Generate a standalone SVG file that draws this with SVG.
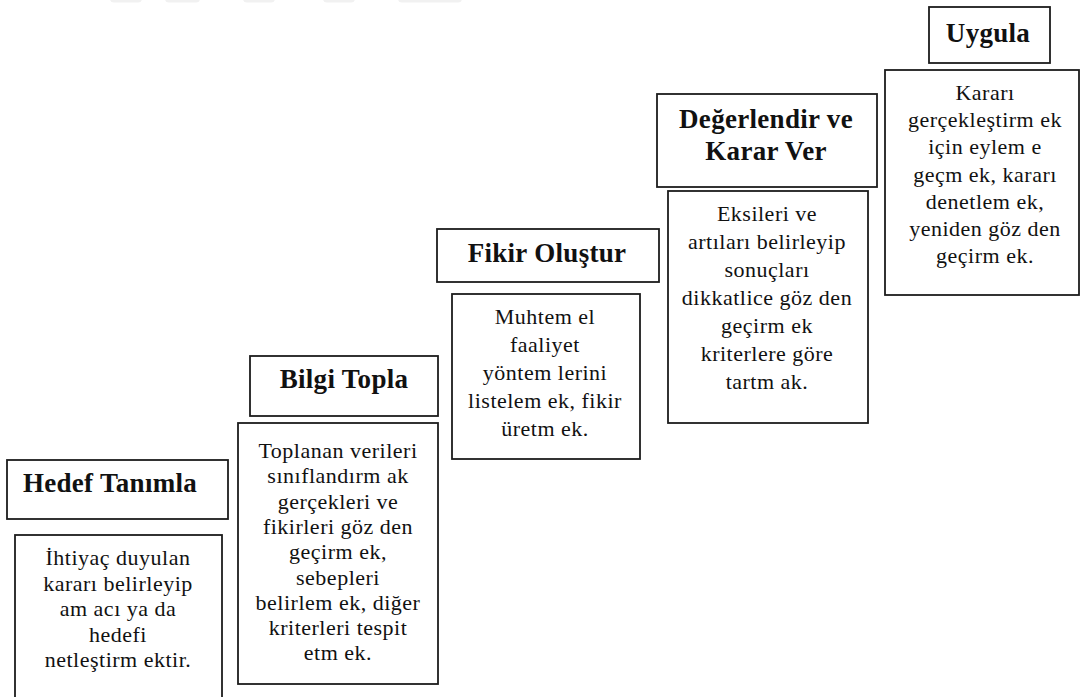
<svg xmlns="http://www.w3.org/2000/svg" width="1081" height="697" viewBox="0 0 1081 697">
<style>
.box{fill:#fff;stroke:#1c1c1c;stroke-width:1.8}
.t{font-family:"Liberation Serif","Times New Roman",serif;font-weight:bold;font-size:27px;fill:#111;text-anchor:middle;letter-spacing:0.3px}
.b{font-family:"Liberation Serif","Times New Roman",serif;font-size:22px;fill:#111;text-anchor:middle;letter-spacing:0.5px}
.wm{fill:#f1f1f1}
</style>
<rect width="1081" height="697" fill="#fff"/>
<g id="watermark">
<rect class="wm" x="110" y="-6" width="32" height="8.5" rx="4"/>
<rect class="wm" x="165" y="-6" width="35" height="8.5" rx="4"/>
<rect class="wm" x="243" y="-6" width="32" height="8.5" rx="4"/>
<rect class="wm" x="323" y="-6" width="32" height="8.5" rx="4"/>
<rect class="wm" x="398" y="-6" width="64" height="8.5" rx="4"/>
</g>
<g id="connectors"></g>
<g id="hedef">
<rect class="box" x="7" y="460" width="221" height="59"/>
<text class="t" x="110" y="492">Hedef Tanımla</text>
<rect class="box" x="15" y="535" width="207" height="175"/>
<text class="b" x="118" y="565">İhtiyaç duyulan</text>
<text class="b" x="118" y="590.5">kararı belirleyip</text>
<text class="b" x="118" y="616">am acı ya da</text>
<text class="b" x="118" y="641.5">hedefi</text>
<text class="b" x="118" y="667">netleştirm ektir.</text>
</g>
<g id="bilgi">
<rect class="box" x="250" y="356" width="188" height="60"/>
<text class="t" x="344" y="388">Bilgi Topla</text>
<rect class="box" x="238" y="423" width="200" height="261"/>
<text class="b" x="338" y="458">Toplanan verileri</text>
<text class="b" x="338" y="483.3">sınıflandırm ak</text>
<text class="b" x="338" y="508.6">gerçekleri  ve</text>
<text class="b" x="338" y="533.9">fikirleri  göz den</text>
<text class="b" x="338" y="559.2">geçirm ek,</text>
<text class="b" x="338" y="584.5">sebepleri</text>
<text class="b" x="338" y="609.8">belirlem ek,  diğer</text>
<text class="b" x="338" y="635.1">kriterleri  tespit</text>
<text class="b" x="338" y="660.4">etm ek.</text>
</g>
<g id="fikir">
<rect class="box" x="437" y="229" width="222" height="53"/>
<text class="t" x="547" y="262">Fikir Oluştur</text>
<rect class="box" x="452" y="294" width="188" height="165"/>
<text class="b" x="545" y="324">Muhtem el</text>
<text class="b" x="545" y="352">faaliyet</text>
<text class="b" x="545" y="380">yöntem lerini</text>
<text class="b" x="545" y="408">listelem ek, fikir</text>
<text class="b" x="545" y="436">üretm ek.</text>
</g>
<g id="degerlendir">
<rect class="box" x="657" y="94" width="220" height="93"/>
<text class="t" x="766" y="128">Değerlendir ve</text>
<text class="t" x="766" y="160">Karar Ver</text>
<rect class="box" x="668" y="191" width="200" height="232"/>
<text class="b" x="767" y="221">Eksileri ve</text>
<text class="b" x="767" y="249">artıları belirleyip</text>
<text class="b" x="767" y="277">sonuçları</text>
<text class="b" x="767" y="305">dikkatlice göz den</text>
<text class="b" x="767" y="333">geçirm ek</text>
<text class="b" x="767" y="361">kriterlere göre</text>
<text class="b" x="767" y="389">tartm ak.</text>
</g>
<g id="uygula">
<rect class="box" x="929" y="7" width="121" height="56"/>
<text class="t" x="988" y="42">Uygula</text>
<rect class="box" x="885" y="70" width="194" height="225"/>
<text class="b" x="985" y="100">Kararı</text>
<text class="b" x="985" y="127.2">gerçekleştirm ek</text>
<text class="b" x="985" y="154.4">için eylem e</text>
<text class="b" x="985" y="181.6">geçm ek, kararı</text>
<text class="b" x="985" y="208.8">denetlem ek,</text>
<text class="b" x="985" y="236">yeniden göz den</text>
<text class="b" x="985" y="263.2">geçirm ek.</text>
</g>
</svg>
